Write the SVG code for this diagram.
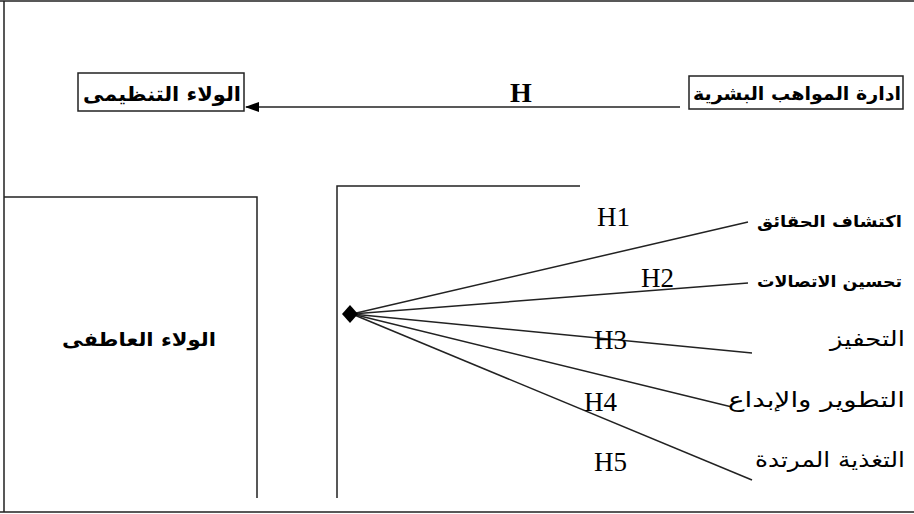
<svg xmlns="http://www.w3.org/2000/svg" width="914" height="514" viewBox="0 0 914 514">
<defs>
<style>
.ln{stroke:#222;stroke-width:1.5;fill:none}
.box{stroke:#222;stroke-width:1.5;fill:#fff}
.ar{font-family:"DejaVu Sans",sans-serif;fill:#000}
.arb{font-family:"DejaVu Sans",sans-serif;font-weight:bold;fill:#000}
.h{font-family:"Liberation Serif",serif;fill:#000;font-size:27px}
</style>
<marker id="tri" markerWidth="14" markerHeight="10" refX="13" refY="5" orient="auto" markerUnits="userSpaceOnUse">
<path d="M0,0 L14,5 L0,10 Z" fill="#000"/>
</marker>
</defs>
<rect x="0" y="0" width="914" height="514" fill="#fff"/>
<g id="frame">
<path class="ln" d="M0,1 H914 M4,1 V512 M0,512 H914" stroke-width="2"/>
</g>
<g id="node-org-loyalty">
<rect class="box" x="78" y="73" width="166" height="38"/>
<text class="arb" x="162" y="101" font-size="20" text-anchor="middle" textLength="158" lengthAdjust="spacingAndGlyphs">الولاء التنظيمى</text>
</g>
<g id="node-talent">
<rect class="box" x="689" y="76" width="214" height="33"/>
<text class="arb" x="901" y="100" font-size="18" text-anchor="end" textLength="208" lengthAdjust="spacingAndGlyphs">ادارة المواهب البشرية</text>
</g>
<g id="connectors">
<line class="ln" x1="680" y1="107" x2="246" y2="107" marker-end="url(#tri)"/>
<line class="ln" x1="748" y1="222" x2="352" y2="314"/>
<line class="ln" x1="748" y1="283" x2="352" y2="314"/>
<line class="ln" x1="752" y1="353" x2="352" y2="314"/>
<line class="ln" x1="732" y1="407" x2="352" y2="314"/>
<line class="ln" x1="752" y1="480" x2="352" y2="314"/>
<path d="M342,314 L350,305 L358,314 L350,323 Z" fill="#000"/>
<path class="ln" d="M337,498 V186 H580"/>
</g>
<g id="label-H">
<text x="521" y="102" font-family="Liberation Serif,serif" font-weight="bold" font-size="28" text-anchor="middle">H</text>
</g>
<g id="node-emotional">
<path class="ln" d="M4,197 H257 V498"/>
<text class="arb" x="139" y="346" font-size="19" text-anchor="middle" textLength="154" lengthAdjust="spacingAndGlyphs">الولاء العاطفى</text>
</g>
<g id="node-facts">
<text class="arb" x="902" y="227" font-size="16" text-anchor="end" textLength="145" lengthAdjust="spacingAndGlyphs">اكتشاف الحقائق</text>
</g>
<g id="node-comm">
<text class="arb" x="902" y="287" font-size="16" text-anchor="end" textLength="145" lengthAdjust="spacingAndGlyphs">تحسين الاتصالات</text>
</g>
<g id="node-motivation">
<text class="ar" x="905" y="346" font-size="21" text-anchor="end" textLength="75" lengthAdjust="spacingAndGlyphs">التحفيز</text>
</g>
<g id="node-development">
<text class="ar" x="905" y="407" font-size="21" text-anchor="end" textLength="177" lengthAdjust="spacingAndGlyphs">التطوير والإبداع</text>
</g>
<g id="node-feedback">
<text class="ar" x="905" y="467" font-size="21" text-anchor="end" textLength="150" lengthAdjust="spacingAndGlyphs">التغذية المرتدة</text>
</g>
<g id="hyp-labels">
<text class="h" x="597" y="226">H1</text>
<text class="h" x="641" y="287">H2</text>
<text class="h" x="594" y="349">H3</text>
<text class="h" x="584" y="411">H4</text>
<text class="h" x="594" y="471">H5</text>
</g>
</svg>
